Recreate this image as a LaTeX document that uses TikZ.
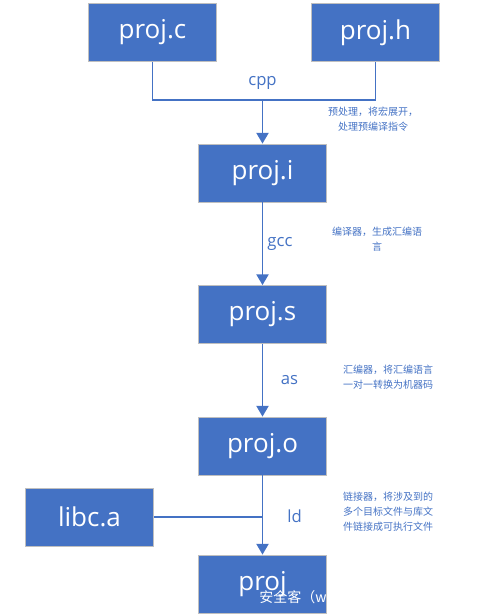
\documentclass[tikz,border=0pt]{standalone}
\usepackage{fontspec}
\setmainfont{Open Sans}
\newfontfamily\cjk{Noto Sans CJK SC}
\usepackage{xcolor}
\definecolor{cMain}{HTML}{4472C4}
\definecolor{cEdge}{HTML}{BFBFBF}
\usepackage{tikz}
\usetikzlibrary{positioning,arrows.meta,calc}
\tikzset{
  file-box/.style={draw=cEdge,line width=0.6pt,fill=cMain,text=white,
    minimum width=96pt,minimum height=43.5pt,inner sep=0pt,
    font=\fontsize{19.5}{22}\selectfont},
  link/.style={draw=cMain,line width=1.4pt},
  arrow/.style={link,-{Triangle[length=8pt,width=9pt]}},
  step-label/.style={text=cMain,font=\fontsize{12.5}{14}\selectfont,inner sep=2pt},
  % 旁注：中文说明文字
  step-note/.style={text=cMain,align=center,inner sep=0pt,
    font=\cjk\fontsize{7.5}{11.2}\selectfont},
}
\begin{document}
\begin{tikzpicture}[x=0.75pt,y=-0.75pt]
  \useasboundingbox (0,0) rectangle (476,615);
  \node[file-box] (pc) at (152.5,32.5) {proj.c};
  \node[file-box] (ph) at (375.5,32.5) {proj.h};
  \node[file-box] (pi) at (262.5,173) {proj.i};
  \node[file-box] (ps) at (262.5,314.5) {proj.s};
  \node[file-box] (po) at (262.5,446) {proj.o};
  \node[file-box] (pe) at (262.5,584) {proj};
  \node[file-box] (lib) at (89.5,517) {libc.a};
  \coordinate (cppj) at (262.5,100);
  \coordinate (ldj) at (262.5,517);
  % cpp
  \draw[link] (pc.south) |- (ph.south |- cppj) -- (ph.south);
  \draw[arrow] (cppj) -- (pi.north);
  \node[step-label] at (262.5,83) {cpp};
  % gcc / as / ld
  \draw[arrow] (pi) -- node[step-label,right,xshift=1pt] {gcc} (ps);
  \draw[arrow] (ps) -- node[step-label,right,xshift=11pt] {as} (po);
  \draw[link] (lib.east) -- (ldj);
  \draw[arrow] (po) -- node[step-label,right,xshift=16pt,yshift=-1pt] {ld} (pe);
  % notes
  \node[step-note] at (373,119) {预处理，将宏展开，\\处理预编译指令};
  \node[step-note] at (377,239) {编译器，生成汇编语\\言};
  \node[step-note] at (388,377.5) {汇编器，将汇编语言\\一对一转换为机器码};
  \node[step-note] at (388,512) {链接器，将涉及到的\\多个目标文件与库文\\件链接成可执行文件};
  \node[text=white,anchor=west,inner sep=0pt,
    font=\cjk\fontsize{10.5}{12}\selectfont] (wm) at (259,597) {安全客（w};
\end{tikzpicture}
\end{document}
